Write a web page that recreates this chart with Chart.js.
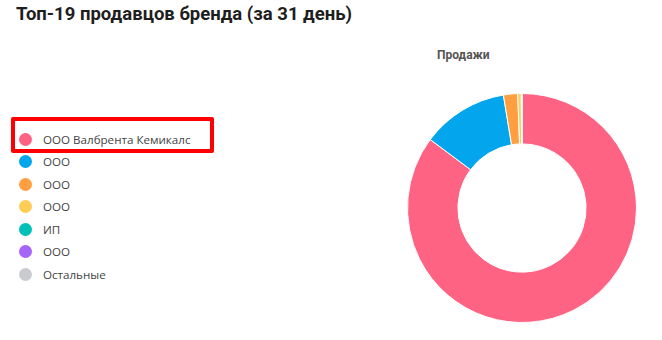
<!DOCTYPE html>
<html>
<head>
<meta charset="utf-8">
<script src="https://cdn.jsdelivr.net/npm/chart.js@4"></script>
<style>
  body { margin: 0; background: #fff; font-family: Roboto, "Noto Sans", sans-serif; }
  #wrap { position: relative; width: 662px; height: 340px; overflow: hidden; }
  h1 { position: absolute; left: 16px; top: 3px; margin: 0; font-size: 18.5px; font-weight: bold; color: #1e1e1e; }
  #legend { position: absolute; left: 19px; top: 128px; margin: 0; padding: 0; list-style: none; }
  #legend li { height: 22.5px; display: flex; align-items: center; font-size: 11.6px; color: #444; font-family: "Open Sans", sans-serif; }
  #legend .dot { width: 13px; height: 13px; border-radius: 50%; margin-right: 11px; }
  #mark { position: absolute; left: 11px; top: 117px; width: 195px; height: 28px; border: 4px solid #ff0000; border-radius: 2px; }
  #pieTitle { position: absolute; left: 437px; top: 48px; font-size: 12px; font-weight: bold; color: #555; }
  #box { position: absolute; left: 400px; top: 93px; width: 244px; height: 230px; }
</style>
</head>
<body>
<div id="wrap">
  <h1>Топ-19 продавцов бренда (за 31 день)</h1>
  <ul id="legend"></ul>
  <div id="mark"></div>
  <div id="pieTitle">Продажи</div>
  <div id="box"><canvas id="pie"></canvas></div>
</div>
<script>
const sellers = ['ООО Валбрента Кемикалс', 'ООО', 'ООО', 'ООО', 'ИП', 'ООО', 'Остальные'];
const sales = [85.2, 12.2, 2.0, 0.5, 0.05, 0.03, 0.02];
const colors = ['#ff6384', '#03a6ec', '#ff9f40', '#ffcd56', '#00c0b8', '#a566f8', '#c9cbcf'];

const legend = document.getElementById('legend');
sellers.forEach(function (name, i) {
    const li = document.createElement('li');
    const dot = document.createElement('span');
    dot.className = 'dot';
    dot.style.background = colors[i];
    li.appendChild(dot);
    li.appendChild(document.createTextNode(name));
    legend.appendChild(li);
});

const ctx = document.getElementById('pie').getContext('2d');
new Chart(ctx, {
    type: 'doughnut',
    data: {
        labels: sellers,
        datasets: [{
            data: sales,
            backgroundColor: colors,
            borderColor: '#ffffff',
            borderWidth: 1
        }]
    },
    options: {
        responsive: true,
        maintainAspectRatio: false,
        animation: false,
        cutout: '56%',
        layout: { padding: 0 },
        plugins: {
            legend: { display: false }
        }
    }
});
</script>
</body>
</html>
